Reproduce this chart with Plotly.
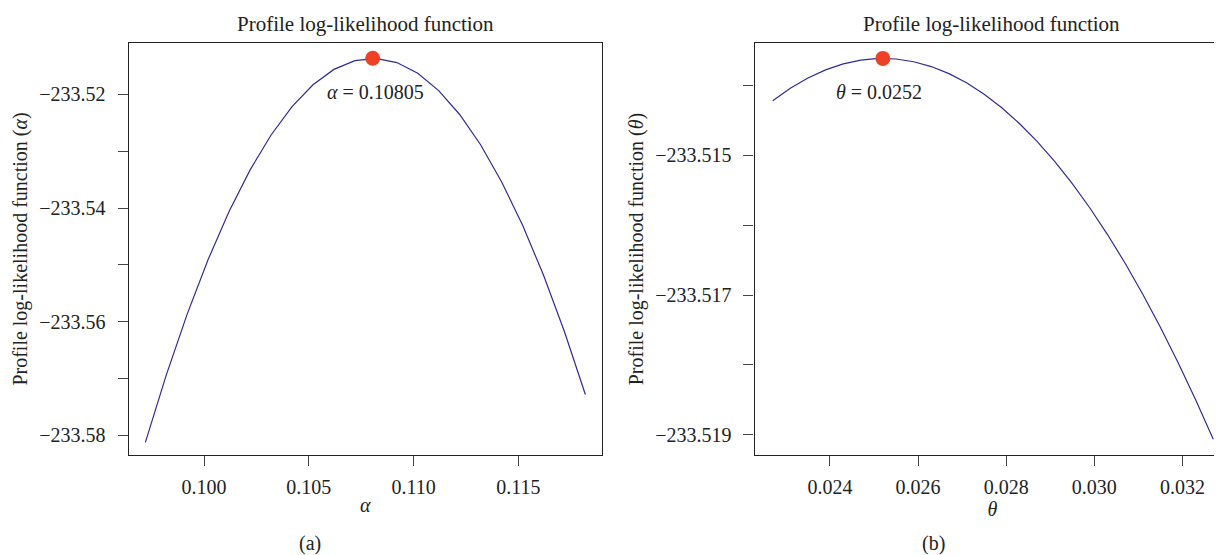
import plotly.graph_objects as go

# ---- data ----
alpha_vals = [0.0972, 0.0982, 0.0992, 0.1002, 0.1012, 0.1022, 0.1032, 0.1042, 0.1052, 0.1062, 0.1072,
              0.1082, 0.1092, 0.1102, 0.1112, 0.1122, 0.1132, 0.1142, 0.1152, 0.1162, 0.1172, 0.1182]
alpha_ll = [-233.58122, -233.56934, -233.55861, -233.54902, -233.54058, -233.53329, -233.52715,
            -233.52216, -233.51831, -233.51561, -233.51407, -233.51366, -233.51441, -233.51630,
            -233.51935, -233.52354, -233.52887, -233.53536, -233.54299, -233.55178, -233.56171,
            -233.57279]
alpha_hat = 0.10805
alpha_hat_ll = -233.51365

theta_vals = [0.0227, 0.0231, 0.0235, 0.0239, 0.0243, 0.0247, 0.0251, 0.0255, 0.0259, 0.0263, 0.0267,
              0.0271, 0.0275, 0.0279, 0.0283, 0.0287, 0.0291, 0.0295, 0.0299, 0.0303, 0.0307, 0.0311,
              0.0315, 0.0319, 0.0323, 0.0327]
theta_ll = [-233.514216, -233.514038, -233.513890, -233.513774, -233.513689, -233.513634, -233.513611,
            -233.513619, -233.513658, -233.513727, -233.513828, -233.513960, -233.514123, -233.514317,
            -233.514542, -233.514798, -233.515085, -233.515404, -233.515753, -233.516133, -233.516544,
            -233.516987, -233.517460, -233.517964, -233.518500, -233.519066]
theta_hat = 0.0252
theta_hat_ll = -233.51361

alpha_xticks = [0.100, 0.105, 0.110, 0.115]
alpha_xlabels = ["0.100", "0.105", "0.110", "0.115"]
alpha_yticks = [-233.58, -233.57, -233.56, -233.55, -233.54, -233.53, -233.52]
alpha_ylabels = ["\u2212233.58", "", "\u2212233.56", "", "\u2212233.54", "", "\u2212233.52"]

theta_xticks = [0.024, 0.026, 0.028, 0.030, 0.032]
theta_xlabels = ["0.024", "0.026", "0.028", "0.030", "0.032"]
theta_yticks = [-233.519, -233.518, -233.517, -233.516, -233.515, -233.514]
theta_ylabels = ["\u2212233.519", "", "\u2212233.517", "", "\u2212233.515", ""]

FONT = "Liberation Serif"
LINE = "#302c96"
DOT = "#ee4125"
AX = "#222222"
TK = "#444444"
FS = 20

def axis(**kw):
    d = dict(showline=True, linecolor=AX, linewidth=1.3, ticks="outside",
             ticklen=10, tickwidth=1.3, tickcolor=TK, showgrid=False, zeroline=False,
             tickfont=dict(family=FONT, size=FS, color="#222"))
    d.update(kw)
    return d

fig = go.Figure()
fig.add_trace(go.Scatter(x=alpha_vals, y=alpha_ll, mode="lines", line=dict(color=LINE, width=1.2),
                         xaxis="x", yaxis="y", showlegend=False))
fig.add_trace(go.Scatter(x=[alpha_hat], y=[alpha_hat_ll], mode="markers",
                         marker=dict(color=DOT, size=15), xaxis="x", yaxis="y", showlegend=False))
fig.add_trace(go.Scatter(x=theta_vals, y=theta_ll, mode="lines", line=dict(color=LINE, width=1.2),
                         xaxis="x2", yaxis="y2", showlegend=False))
fig.add_trace(go.Scatter(x=[theta_hat], y=[theta_hat_ll], mode="markers",
                         marker=dict(color=DOT, size=15), xaxis="x2", yaxis="y2", showlegend=False))

ydom = [0.1946, 0.9369]
fig.update_layout(
    width=1222, height=555, margin=dict(l=0, r=0, t=0, b=0),
    plot_bgcolor="white", paper_bgcolor="white",
    font=dict(family=FONT, color="#222"),
    xaxis=axis(domain=[0.0988, 0.4861], range=[0.096406, 0.118995], tickvals=alpha_xticks,
               ticktext=alpha_xlabels, anchor="y", mirror=True, ticklabelstandoff=4,
               title=dict(text="<i>α</i>", font=dict(family=FONT, size=FS), standoff=0)),
    yaxis=axis(domain=ydom, range=[-233.58344, -233.51097], tickvals=alpha_yticks,
               ticktext=alpha_ylabels, anchor="x", mirror=True, ticklabelstandoff=8,
               title=dict(text="Profile log-likelihood function (<i>α</i>)",
                          font=dict(family=FONT, size=FS), standoff=6)),
    xaxis2=axis(domain=[0.6110, 1.0], range=[0.02229, 0.03308], tickvals=theta_xticks,
                ticktext=theta_xlabels, anchor="y2", mirror=True, ticklabelstandoff=4,
                title=dict(text="<i>θ</i>", font=dict(family=FONT, size=FS), standoff=0)),
    yaxis2=axis(domain=ydom, range=[-233.51929, -233.51339], tickvals=theta_yticks,
                ticktext=theta_ylabels, anchor="x2", mirror=False, ticklabelstandoff=8,
                title=dict(text="Profile log-likelihood function (<i>θ</i>)",
                           font=dict(family=FONT, size=FS), standoff=6)),
)

annots = [
    dict(text="Profile log-likelihood function", x=0.2924, y=0.972, xref="paper", yref="paper",
         xanchor="center", yanchor="middle", showarrow=False, font=dict(family=FONT, size=21)),
    dict(text="Profile log-likelihood function", x=0.8047, y=0.972, xref="paper", yref="paper",
         xanchor="center", yanchor="middle", showarrow=False, font=dict(family=FONT, size=21)),
    dict(text="(a)", x=0.2471, y=0.036, xref="paper", yref="paper", xanchor="center",
         yanchor="middle", showarrow=False, font=dict(family=FONT, size=FS)),
    dict(text="(b)", x=0.757, y=0.036, xref="paper", yref="paper", xanchor="center",
         yanchor="middle", showarrow=False, font=dict(family=FONT, size=FS)),
    dict(text="<i>α</i> = 0.10805", x=alpha_hat, y=alpha_hat_ll, xref="x", yref="y",
         xanchor="center", yanchor="middle", showarrow=False, xshift=3, yshift=-34,
         font=dict(family=FONT, size=FS)),
    dict(text="<i>θ</i> = 0.0252", x=theta_hat, y=theta_hat_ll, xref="x2", yref="y2",
         xanchor="center", yanchor="middle", showarrow=False, xshift=-4, yshift=-34,
         font=dict(family=FONT, size=FS)),
]
fig.update_layout(annotations=annots)

fig.write_html("out.html")
